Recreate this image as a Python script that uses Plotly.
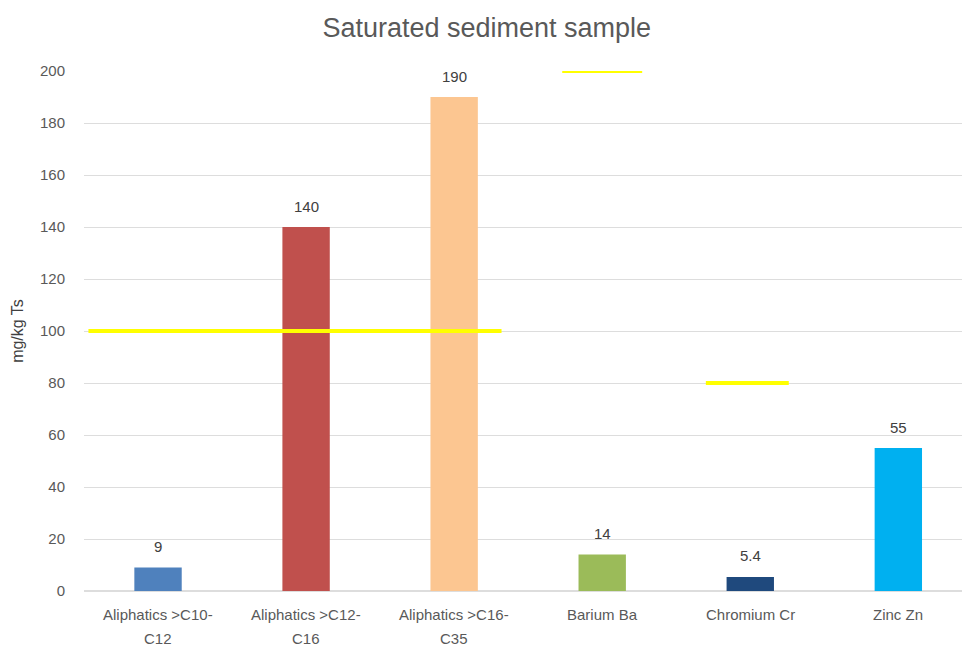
import plotly.graph_objects as go

# Sample data
categories = ["Aliphatics >C10-<br>C12", "Aliphatics >C12-<br>C16", "Aliphatics >C16-<br>C35",
              "Barium Ba", "Chromium Cr", "Zinc Zn"]
values = [9, 140, 190, 14, 5.4, 55]
value_labels = ["9", "140", "190", "14", "5.4", "55"]
bar_colors = ["#4F81BD", "#C0504D", "#FCC691", "#9BBB59", "#1F497D", "#00B0F0"]

# Limit values (threshold segments) and their x extent in category units
limit_values = [100, 200, 80]
limit_x_start = [-0.47, 2.73, 3.70]
limit_x_end = [2.32, 3.27, 4.26]

FONT = "Liberation Sans, Arial"
x_pos = list(range(len(categories)))

fig = go.Figure()
fig.add_trace(go.Bar(
    x=x_pos, y=values, width=0.32,
    marker=dict(color=bar_colors, line=dict(width=0)),
    showlegend=False,
))

for v, xs, xe in zip(limit_values, limit_x_start, limit_x_end):
    fig.add_trace(go.Scatter(
        x=[xs, xe], y=[v, v], mode="lines",
        line=dict(color="#FFFF00", width=4),
        showlegend=False, hoverinfo="skip", cliponaxis=False,
    ))

annotations = []
# value labels above each bar
for xi, v, lab in zip(x_pos, values, value_labels):
    annotations.append(dict(x=xi, y=v, xref="x", yref="y", text=lab, showarrow=False,
                            yanchor="middle", yshift=21,
                            font=dict(family=FONT, size=15, color="#404040")))
# category labels, one annotation per line for wider line spacing
for xi, cat in zip(x_pos, categories):
    for k, line in enumerate(cat.split("<br>")):
        annotations.append(dict(x=xi, y=0, xref="x", yref="y", text=line, showarrow=False,
                                yanchor="middle", yshift=-23 - 24 * k, borderpad=0,
                                font=dict(family=FONT, size=15, color="#595959")))

fig.update_layout(
    width=962, height=648,
    margin=dict(l=84, r=0, t=71, b=57),
    paper_bgcolor="white", plot_bgcolor="white",
    title=dict(text="Saturated sediment sample", x=0.506, xanchor="center",
               y=0.958, yanchor="middle",
               font=dict(family=FONT, size=27, color="#595959")),
    font=dict(family=FONT, size=15, color="#595959"),
    xaxis=dict(range=[-0.5, 5.43], tickvals=x_pos, showticklabels=False,
               showgrid=False, zeroline=False, showline=False, ticks=""),
    yaxis=dict(range=[0, 200], dtick=20, showgrid=True, gridcolor="#DDDDDD",
               gridwidth=1, zeroline=True, zerolinecolor="#DDDDDD",
               ticks="", ticklabelstandoff=18,
               title=dict(text="mg/kg Ts", standoff=12,
                          font=dict(family=FONT, size=16, color="#404040"))),
    annotations=annotations,
)

fig.write_html("out.html")
